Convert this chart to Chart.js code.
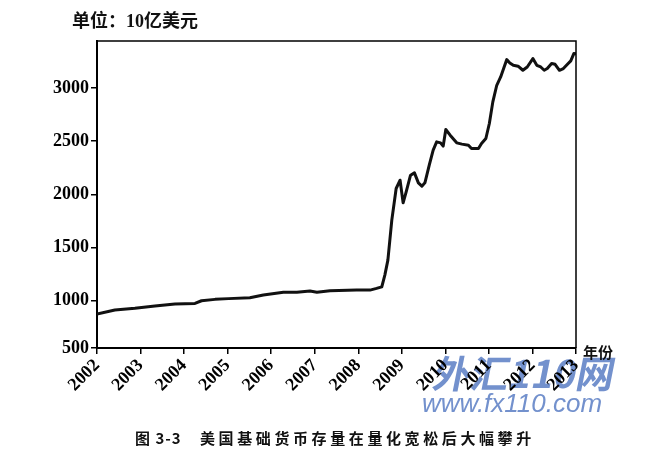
<!DOCTYPE html>
<html>
<head>
<meta charset="utf-8">
<script src="https://cdn.jsdelivr.net/npm/chart.js@4/dist/chart.umd.min.js"></script>
<style>
html,body{margin:0;padding:0;background:#fff;}
#wrap{width:669px;height:466px;}
</style>
</head>
<body>
<div id="wrap"><canvas id="c" width="669" height="466"></canvas></div>
<script>
// Time (decimal year) and US monetary base (10亿美元)
const years = [2002.00,2002.41,2002.87,2003.33,2003.79,2004.25,2004.40,2004.71,2005.02,2005.51,2005.82,2006.28,2006.59,2006.89,2007.05,2007.35,2007.96,2008.27,2008.42,2008.54,2008.61,2008.68,2008.77,2008.87,2008.96,2009.03,2009.10,2009.20,2009.29,2009.38,2009.46,2009.53,2009.63,2009.72,2009.80,2009.89,2009.95,2010.01,2010.11,2010.26,2010.38,2010.53,2010.60,2010.76,2010.83,2010.93,2011.01,2011.09,2011.18,2011.27,2011.35,2011.41,2011.48,2011.56,2011.67,2011.78,2011.88,2012.01,2012.10,2012.19,2012.27,2012.34,2012.44,2012.52,2012.62,2012.71,2012.82,2012.88,2012.95,2013.00];
const baseMoney = [875,913,929,950,969,975,1000,1013,1020,1028,1054,1079,1079,1091,1079,1094,1100,1100,1116,1131,1241,1382,1758,2055,2133,1920,2024,2180,2202,2108,2077,2108,2274,2415,2493,2484,2453,2609,2556,2484,2472,2462,2431,2431,2478,2525,2666,2869,3025,3103,3197,3266,3235,3213,3204,3166,3197,3276,3213,3197,3166,3182,3229,3222,3166,3182,3229,3254,3323,3320];
const yTickLabels = ['500','1000','1500','2000','2500','3000'];
const yTickValues = [556,1000,1500,2000,2500,3000];
const yAxisMin = 556, yAxisMax = 3441;
const xAxisMin = 2002, xAxisMax = 2013;
const titleText = '单位：10亿美元';
const xAxisName = '年份';
const captionNo = '图 3-3';
const captionText = '美国基础货币存量在量化宽松后大幅攀升';

const serif = '"Liberation Serif", "DejaVu Serif", serif';
const cjk = '"Noto Sans CJK SC", sans-serif';

const deco = {
  id: 'deco',
  beforeDraw(chart) {
    const ctx = chart.ctx;
    ctx.save();
    ctx.fillStyle = '#fff';
    ctx.fillRect(0, 0, chart.width, chart.height);
    // watermark
    ctx.fillStyle = 'rgb(115,145,205)';
    ctx.textBaseline = 'alphabetic';
    ctx.textAlign = 'left';
    ctx.save();
    ctx.translate(431, 388);
    ctx.transform(1, 0, -0.2, 1, 0, 0);
    ctx.font = 'bold 38px ' + cjk;
    ctx.fillText('外汇110网', 0, 0);
    ctx.restore();
    ctx.font = 'italic 26px "Liberation Sans", Arial, sans-serif';
    ctx.fillText('www.fx110.com', 422, 412);
    ctx.restore();
  },
  afterDraw(chart) {
    const ctx = chart.ctx;
    const a = chart.chartArea;
    ctx.save();
    ctx.strokeStyle = '#000';
    ctx.lineWidth = 1.5;
    ctx.beginPath();
    ctx.moveTo(a.left, a.top);
    ctx.lineTo(a.right, a.top);
    ctx.lineTo(a.right, a.bottom);
    ctx.stroke();
    ctx.fillStyle = '#111';
    ctx.textBaseline = 'middle';
    ctx.textAlign = 'left';
    ctx.font = 'bold 18px ' + serif + ', ' + cjk;
    ctx.fillText(titleText, 72, 22);
    ctx.font = 'bold 15px ' + cjk;
    ctx.fillText(xAxisName, 583, 352);
    ctx.font = 'bold 15px ' + cjk;
    ctx.letterSpacing = '1px';
    ctx.fillText(captionNo, 135, 438);
    ctx.letterSpacing = '3.6px';
    ctx.fillText(captionText, 200, 438);
    ctx.restore();
  }
};

new Chart(document.getElementById('c'), {
  type: 'line',
  data: {
    datasets: [{
      data: years.map((x, i) => ({x: x, y: baseMoney[i]})),
      borderColor: '#111',
      borderWidth: 3,
      pointRadius: 0,
      tension: 0,
      fill: false,
      borderJoinStyle: 'round'
    }]
  },
  options: {
    responsive: false,
    animation: false,
    devicePixelRatio: 1,
    layout: {padding: {top: 41, right: 93, left: 0, bottom: 0}},
    plugins: {legend: {display: false}, tooltip: {enabled: false}, title: {display: false}},
    scales: {
      x: {
        type: 'linear',
        min: xAxisMin, max: xAxisMax,
        afterFit(s) { s.height = 118; },
        grid: {display: true, drawOnChartArea: false, drawTicks: true, tickLength: 6, color: '#000', lineWidth: 1.5},
        border: {display: true, color: '#000', width: 2},
        ticks: {
          stepSize: 1, autoSkip: false, minRotation: 45, maxRotation: 45, padding: 1,
          color: '#000', font: {family: serif, size: 18, weight: 'bold'},
          callback: (v) => String(v)
        }
      },
      y: {
        min: yAxisMin, max: yAxisMax,
        afterFit(s) { s.width = 97; },
        afterBuildTicks(s) { s.ticks = yTickValues.map(v => ({value: v})); },
        grid: {display: true, drawOnChartArea: false, drawTicks: true, tickLength: 6, color: '#000', lineWidth: 1.5},
        border: {display: true, color: '#000', width: 2},
        ticks: {
          padding: 2, color: '#000', font: {family: serif, size: 18, weight: 'bold'},
          callback: (v, i) => yTickLabels[i]
        }
      }
    }
  },
  plugins: [deco]
});
</script>
</body>
</html>
